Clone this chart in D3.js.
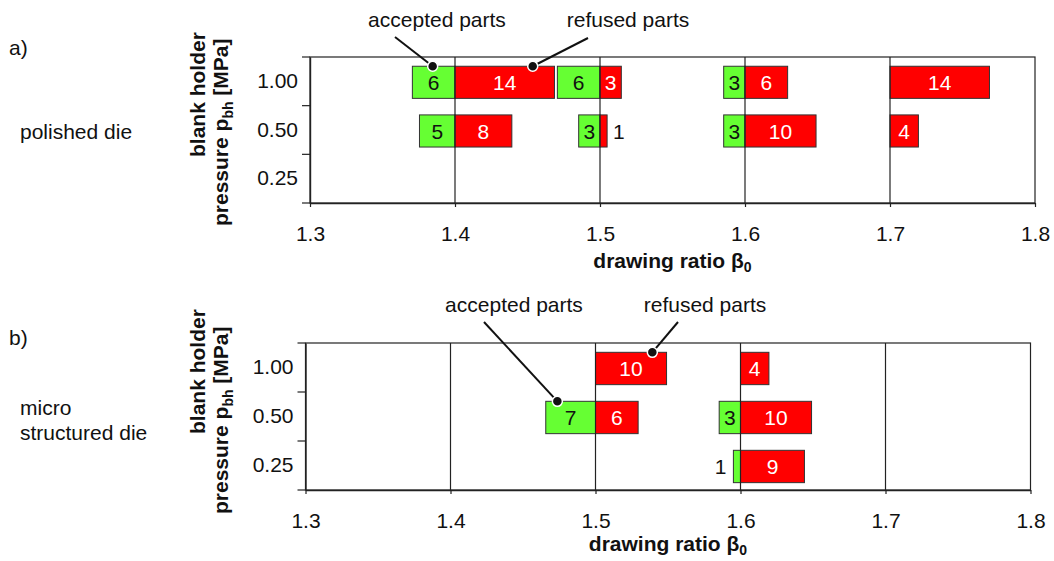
<!DOCTYPE html>
<html>
<head>
<meta charset="utf-8">
<script src="https://cdn.jsdelivr.net/npm/d3@7"></script>
<style>
  html, body { margin: 0; padding: 0; background: #fff; }
  svg { display: block; font-family: "Liberation Sans", Arial, sans-serif; }
</style>
</head>
<body>
<script>
// ---- data ----------------------------------------------------------------
const ratioTicks = [1.3, 1.4, 1.5, 1.6, 1.7, 1.8];
const gridRatios = [1.4, 1.5, 1.6, 1.7];
const pressureLevels = ["1.00", "0.50", "0.25"];

// polished die: number of parts per drawing ratio and blank holder pressure
const polishedAccepted = [
  { ratio: 1.4, p: "1.00", n: 6 },
  { ratio: 1.4, p: "0.50", n: 5 },
  { ratio: 1.5, p: "1.00", n: 6 },
  { ratio: 1.5, p: "0.50", n: 3 },
  { ratio: 1.6, p: "1.00", n: 3 },
  { ratio: 1.6, p: "0.50", n: 3 }
];
const polishedRefused = [
  { ratio: 1.4, p: "1.00", n: 14 },
  { ratio: 1.4, p: "0.50", n: 8 },
  { ratio: 1.5, p: "1.00", n: 3 },
  { ratio: 1.5, p: "0.50", n: 1 },
  { ratio: 1.6, p: "1.00", n: 6 },
  { ratio: 1.6, p: "0.50", n: 10 },
  { ratio: 1.7, p: "1.00", n: 14 },
  { ratio: 1.7, p: "0.50", n: 4 }
];

// micro structured die
const microAccepted = [
  { ratio: 1.5, p: "0.50", n: 7 },
  { ratio: 1.6, p: "0.50", n: 3 },
  { ratio: 1.6, p: "0.25", n: 1 }
];
const microRefused = [
  { ratio: 1.5, p: "1.00", n: 10 },
  { ratio: 1.5, p: "0.50", n: 6 },
  { ratio: 1.6, p: "1.00", n: 4 },
  { ratio: 1.6, p: "0.50", n: 10 },
  { ratio: 1.6, p: "0.25", n: 9 }
];

// ---- drawing -------------------------------------------------------------
const W = 1054, H = 561;
const PART = 0.0049;          // bar length of one part, in drawing-ratio units
const GREEN = "#66ff33", RED = "#ff0000";
const FONT = "'Liberation Sans', Arial, sans-serif";
const FS = 21;                // main text size

const svg = d3.select("body").append("svg")
  .attr("width", W).attr("height", H);

const panels = [
  {
    tag: "a)", tagY: 55,
    die: ["polished die"], dieY: 139,
    x0: 310, x1: 1035, y0: 57, y1: 203, xTitleGap: 65,
    accepted: polishedAccepted, refused: polishedRefused,
    titleStart1: 157, titleStart2: 226,
    notes: [
      { text: "accepted parts", tx: 437, ty: 27, lx: 395, ly: 37, ratio: 1.3846, p: "1.00" },
      { text: "refused parts", tx: 628, ty: 27, lx: 588, ly: 38, ratio: 1.4536, p: "1.00" }
    ]
  },
  {
    tag: "b)", tagY: 345,
    die: ["micro", "structured die"], dieY: 415,
    x0: 305.5, x1: 1030.5, y0: 343, y1: 490, xTitleGap: 61,
    accepted: microAccepted, refused: microRefused,
    titleStart1: 434, titleStart2: 514,
    notes: [
      { text: "accepted parts", tx: 514, ty: 312, lx: 484, ly: 322, ratio: 1.4737, p: "0.50" },
      { text: "refused parts", tx: 705, ty: 312, lx: 678, ly: 322, ratio: 1.5392, p: "1.00" }
    ]
  }
];

panels.forEach(drawPanel);

function drawPanel(cfg) {
  const x = d3.scaleLinear().domain([1.3, 1.8]).range([cfg.x0, cfg.x1]);
  const y = d3.scaleBand().domain(pressureLevels).range([cfg.y0, cfg.y1]);
  const bw = y.bandwidth();
  const barY = p => y(p) + bw * 0.19;
  const barH = bw * 0.66;

  const g = svg.append("g");

  // panel tag and die description
  g.append("text").attr("x", 9).attr("y", cfg.tagY)
    .attr("font-size", FS).attr("fill", "#111").text(cfg.tag);
  g.append("text").attr("x", 20).attr("y", cfg.dieY)
    .attr("font-size", FS).attr("fill", "#111")
    .selectAll("tspan").data(cfg.die).join("tspan")
    .attr("x", 20).attr("dy", (d, i) => i === 0 ? 0 : 25)
    .text(d => d);

  // frame
  g.append("rect")
    .attr("x", cfg.x0).attr("y", cfg.y0)
    .attr("width", cfg.x1 - cfg.x0).attr("height", cfg.y1 - cfg.y0)
    .attr("fill", "none").attr("stroke", "#222").attr("stroke-width", 1.2);

  // x axis
  const xAxis = g.append("g")
    .attr("transform", `translate(0,${cfg.y1})`)
    .call(d3.axisBottom(x).tickValues(ratioTicks).tickFormat(d3.format(".1f"))
      .tickSize(4).tickSizeOuter(0).tickPadding(19));
  xAxis.select(".domain").attr("stroke", "#222").attr("stroke-width", 1.4);
  xAxis.selectAll(".tick line").attr("stroke", "#222").attr("stroke-width", 1.2);
  xAxis.selectAll(".tick text").attr("font-size", FS).attr("font-family", FONT).attr("fill", "#111");

  // y axis: ticks on the band boundaries, labels in the band centres
  const yAxis = g.append("g")
    .attr("transform", `translate(${cfg.x0},0)`)
    .call(d3.axisLeft(y).tickSize(0).tickSizeOuter(0).tickPadding(12));
  yAxis.select(".domain").attr("stroke", "#222").attr("stroke-width", 1.4);
  yAxis.selectAll(".tick text").attr("font-size", FS).attr("font-family", FONT).attr("fill", "#111");
  const bounds = [cfg.y0].concat(pressureLevels.map(p => y(p) + bw));
  g.selectAll("line.ytick").data(bounds).join("line")
    .attr("class", "ytick")
    .attr("x1", cfg.x0 - 8).attr("x2", cfg.x0)
    .attr("y1", d => d).attr("y2", d => d)
    .attr("stroke", "#222").attr("stroke-width", 1.2);

  // y axis title (two lines, rotated)
  g.append("text")
    .attr("transform", `translate(205,${cfg.titleStart1}) rotate(-90)`)
    .attr("font-size", FS).attr("font-weight", "bold").attr("fill", "#111")
    .text("blank holder");
  const t2 = g.append("text")
    .attr("transform", `translate(228,${cfg.titleStart2}) rotate(-90)`)
    .attr("font-size", FS).attr("font-weight", "bold").attr("fill", "#111");
  t2.append("tspan").text("pressure p");
  t2.append("tspan").attr("dy", 5).attr("font-size", 14).text("bh");
  t2.append("tspan").attr("dy", -5).text(" [MPa]");

  // x axis title
  const xt = g.append("text")
    .attr("x", (cfg.x0 + cfg.x1) / 2).attr("y", cfg.y1 + cfg.xTitleGap)
    .attr("text-anchor", "middle")
    .attr("font-size", FS).attr("font-weight", "bold").attr("fill", "#111");
  xt.append("tspan").text("drawing ratio β");
  xt.append("tspan").attr("dy", 4).attr("font-size", 14).text("0");

  // accepted parts: bars to the left of the drawing ratio
  const acc = g.append("g");
  acc.selectAll("rect").data(cfg.accepted).join("rect")
    .attr("x", d => x(d.ratio - d.n * PART))
    .attr("width", d => x(d.ratio) - x(d.ratio - d.n * PART))
    .attr("y", d => barY(d.p)).attr("height", barH)
    .attr("fill", GREEN).attr("stroke", "#333").attr("stroke-width", 1);

  // refused parts: bars to the right of the drawing ratio
  const ref = g.append("g");
  ref.selectAll("rect").data(cfg.refused).join("rect")
    .attr("x", d => x(d.ratio))
    .attr("width", d => x(d.ratio + d.n * PART) - x(d.ratio))
    .attr("y", d => barY(d.p)).attr("height", barH)
    .attr("fill", RED).attr("stroke", "#333").attr("stroke-width", 1);

  // vertical grid lines at the tested drawing ratios, over the bars
  g.selectAll("line.grid").data(gridRatios).join("line")
    .attr("class", "grid")
    .attr("x1", d => x(d)).attr("x2", d => x(d))
    .attr("y1", cfg.y0).attr("y2", cfg.y1)
    .attr("stroke", "#222").attr("stroke-width", 1.2);

  // count labels
  const inside = d => d.n >= 2;
  acc.selectAll("text").data(cfg.accepted).join("text")
    .attr("x", d => inside(d)
      ? (x(d.ratio - d.n * PART) + x(d.ratio)) / 2
      : x(d.ratio - d.n * PART) - 7)
    .attr("y", d => barY(d.p) + barH / 2)
    .attr("dy", "0.36em")
    .attr("text-anchor", d => inside(d) ? "middle" : "end")
    .attr("font-size", FS).attr("fill", "#111")
    .text(d => d.n);
  ref.selectAll("text").data(cfg.refused).join("text")
    .attr("x", d => inside(d)
      ? (x(d.ratio) + x(d.ratio + d.n * PART)) / 2
      : x(d.ratio + d.n * PART) + 6)
    .attr("y", d => barY(d.p) + barH / 2)
    .attr("dy", "0.36em")
    .attr("text-anchor", d => inside(d) ? "middle" : "start")
    .attr("font-size", FS).attr("fill", d => inside(d) ? "#fff" : "#111")
    .text(d => d.n);

  // call-outs
  cfg.notes.forEach(nt => {
    const dx = x(nt.ratio), dy = barY(nt.p);
    g.append("text").attr("x", nt.tx).attr("y", nt.ty)
      .attr("text-anchor", "middle").attr("font-size", FS).attr("fill", "#111")
      .text(nt.text);
    g.append("line")
      .attr("x1", nt.lx).attr("y1", nt.ly).attr("x2", dx).attr("y2", dy)
      .attr("stroke", "#111").attr("stroke-width", 2);
    g.append("circle").attr("cx", dx).attr("cy", dy).attr("r", 5)
      .attr("fill", "#111").attr("stroke", "#fff").attr("stroke-width", 1.5);
  });
}
</script>
</body>
</html>
